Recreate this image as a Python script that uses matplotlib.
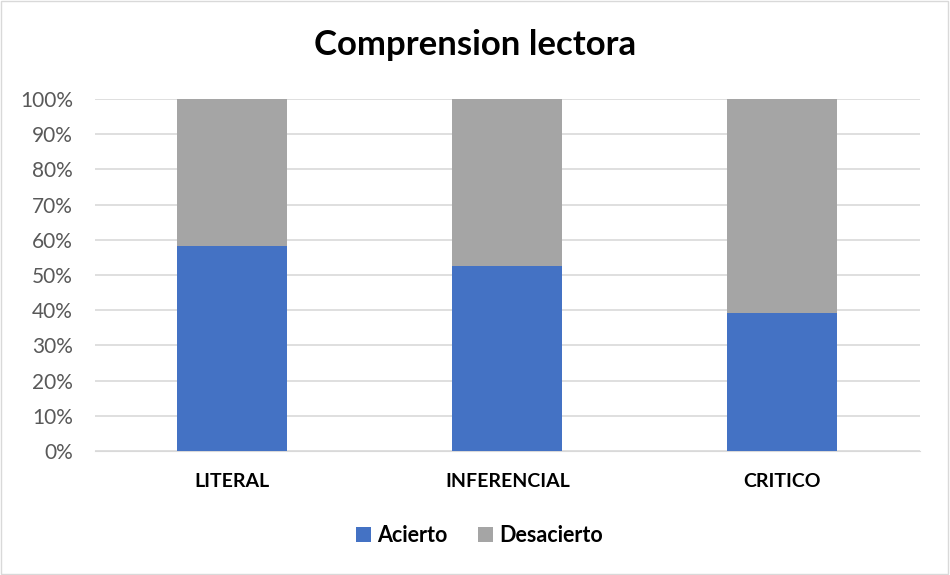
import numpy as np
import matplotlib.pyplot as plt
from matplotlib.ticker import PercentFormatter

categories = ["LITERAL", "INFERENCIAL", "CRITICO"]
acierto = [58.2, 52.6, 39.1]
desacierto = [100 - v for v in acierto]

plt.rcParams['font.family'] = ['Lato', 'DejaVu Sans']

fig = plt.figure(figsize=(9.5, 5.75), dpi=100)
ax = fig.add_axes([0.1, 0.2157, 0.868, 0.6122])

x = np.arange(len(categories))
ax.bar(x, acierto, width=0.4, color='#4472C4', label='Acierto', zorder=3)
ax.bar(x, desacierto, width=0.4, bottom=acierto, color='#A5A5A5', label='Desacierto', zorder=3)

ax.set_xlim(-0.5, 2.5)
ax.set_ylim(0, 100)
ax.set_yticks(np.arange(0, 101, 10))
ax.yaxis.set_major_formatter(PercentFormatter(decimals=0))
ax.set_xticks(x)
ax.set_xticklabels(categories, fontweight='bold', fontsize=14)
ax.tick_params(axis='y', labelsize=15, labelcolor='#595959', length=0, pad=16)
ax.tick_params(axis='x', length=0, pad=16)
ax.grid(axis='y', color='#D9D9D9', linewidth=1.2, zorder=0)
for s in ax.spines.values():
    s.set_visible(False)
ax.spines['bottom'].set_visible(True)
ax.spines['bottom'].set_color('#D9D9D9')

fig.text(0.5, 0.922, "Comprension lectora", ha='center', va='center', fontsize=25, fontweight='bold')

leg = fig.legend(loc='center', bbox_to_anchor=(0.505, 0.068), ncol=2, frameon=False,
                 prop={'weight': 'bold', 'size': 15.5}, handlelength=0.7, handleheight=0.7,
                 handletextpad=0.3, columnspacing=1.4)

fig.patches.append(plt.Rectangle((0.001, 0.002), 0.997, 0.996, transform=fig.transFigure,
                                 fill=False, edgecolor='#D9D9D9', linewidth=1))

fig.savefig('out.png', dpi=100)
